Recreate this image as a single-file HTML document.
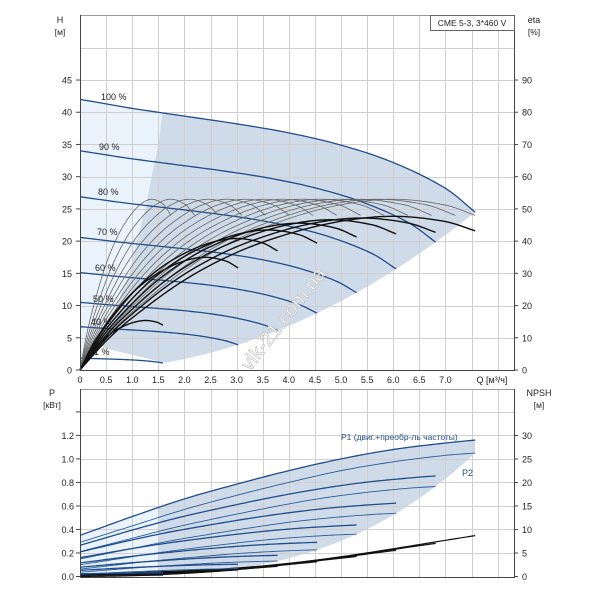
<!DOCTYPE html>
<html><head><meta charset="utf-8"><style>
html,body{margin:0;padding:0;background:#fff;}
svg{display:block;font-family:"Liberation Sans","Noto Sans CJK SC",sans-serif;}
</style></head><body>
<svg id="chart" width="600" height="600" viewBox="0 0 600 600"></svg>
<script>
// ---- data ----
const qSamples = [0, 0.5, 1, 2, 3, 4, 5, 6, 7, 7.57];
const head100 = [42, 41.3, 40.6, 39.4, 38.2, 36.8, 34.9, 32.2, 28.2, 24.5];
const eta100 = [0, 10, 18, 31, 40.5, 47, 51.3, 53, 51.2, 48];
const p1Full = [0.35, 0.43, 0.51, 0.66, 0.785, 0.90, 1.0, 1.08, 1.135, 1.16];
const p2Full = [0.29, 0.36, 0.43, 0.57, 0.69, 0.80, 0.90, 0.975, 1.03, 1.05];
const npsh100 = [0.5, 0.6, 0.8, 1.2, 1.8, 2.8, 4.2, 5.9, 7.7, 8.7];
const speeds = [1.0, 0.9, 0.8, 0.7, 0.6, 0.5, 0.4, 0.21];
const speedLabels = ["100 %", "90 %", "80 %", "70 %", "60 %", "50 %", "40 %", "21 %"];
const etaGraySpeeds = [0.23, 0.29, 0.35, 0.41, 0.47, 0.53, 0.59, 0.65, 0.71, 0.77, 0.83, 0.89, 0.95, 1.0];
const etaBlackSpeeds = [0.21, 0.4, 0.5, 0.6, 0.7, 0.8, 0.9, 1.0];
const etaBlackFactor = [0.29, 0.66, 0.77, 0.82, 0.86, 0.88, 0.89, 0.9];
const p1Extra = [0, 0.01, 0.03, 0.04, 0.04, 0.035, 0.03, 0.02];
const qTicks = ["0","0.5","1.0","1.5","2.0","2.5","3.0","3.5","4.0","4.5","5.0","5.5","6.0","6.5","7.0"];
const hTicks = [0,5,10,15,20,25,30,35,40,45];
const etaTicks = [0,10,20,30,40,50,60,70,80,90];
const pTicks = [0,0.2,0.4,0.6,0.8,1.0,1.2];
const npshTicks = [0,5,10,15,20,25,30];
const qMax = 7.57;

// ---- scales ----
const X0=80, XR=514, PXQ=52.2;
const xs = q => X0 + q*PXQ;
const yH = h => 370 - h*6.444;
const yEta = e => 370 - e*3.222;
const yP = p => 576.5 - p*117.6;
const yN = n => 576.5 - n*4.70;

// smooth cubic Hermite interpolation over samples
function interp(arr, q){
  const xsq=qSamples, n=xsq.length;
  if(q<=xsq[0]) return arr[0];
  if(q>=xsq[n-1]) return arr[n-1];
  let i=1; while(q>xsq[i]) i++;
  const slope=k=>{
    if(k===0) return (arr[1]-arr[0])/(xsq[1]-xsq[0]);
    if(k===n-1) return (arr[n-1]-arr[n-2])/(xsq[n-1]-xsq[n-2]);
    return (arr[k+1]-arr[k-1])/(xsq[k+1]-xsq[k-1]);
  };
  const x0=xsq[i-1], x1=xsq[i], h=x1-x0, t=(q-x0)/h;
  const m0=slope(i-1)*h, m1=slope(i)*h;
  const t2=t*t, t3=t2*t;
  return (2*t3-3*t2+1)*arr[i-1]+(t3-2*t2+t)*m0+(-2*t3+3*t2)*arr[i]+(t3-t2)*m1;
}
const svg=document.getElementById('chart');
const NS='http://www.w3.org/2000/svg';
function mk(tag,attrs,parent){const e=document.createElementNS(NS,tag);for(const k in attrs)e.setAttribute(k,attrs[k]);(parent||svg).appendChild(e);return e;}
function txt(s,x,y,anchor,size,fill,parent){const t=mk('text',{x:x,y:y,'text-anchor':anchor||'start','font-size':size||10,fill:fill||'#222'},parent);t.textContent=s;return t;}
function curve(fn,q0,q1){let d='';const N=80;for(let i=0;i<=N;i++){const q=q0+(q1-q0)*i/N;const [x,y]=fn(q);d+=(i?'L':'M')+x.toFixed(2)+','+y.toFixed(2);}return d;}

// ---- top plot shading ----
const hN=(n,q)=>n*n*interp(head100,q/n);
const kPar = 24.5/(qMax*qMax);
const leftB=[[1.5,35],[1.37,30],[1.25,25],[1.09,20],[0.95,15],[0.7,10],[0.5,6],[0.42,3.5]];
{
  let d='M'+xs(0)+','+yH(1.85)+'L'+xs(0)+','+yH(42);
  d+=curve(q=>[xs(q),yH(hN(1,q))],0,1.58).replace(/^M/,'L');
  leftB.forEach(p=>d+='L'+xs(p[0])+','+yH(p[1]));
  d+='L'+xs(0.1)+','+yH(1.85)+'Z';
  const e=mk('path',{d:d,fill:'#eaf3fc'});
  
  
  let d2='M'+xs(1.58)+','+yH(hN(1,1.58));
  d2+=curve(q=>[xs(q),yH(hN(1,q))],1.58,qMax).replace(/^M/,'L');
  d2+=curve(q=>[xs(q),yH(kPar*q*q)],qMax,1.62).replace(/^M/,'L');
  d2+='L'+xs(0.42)+','+yH(3.5);
  leftB.slice().reverse().forEach(p=>d2+='L'+xs(p[0])+','+yH(p[1]));
  d2+='Z';
  const e2=mk('path',{d:d2,fill:'#cfdbe8'});
  
  
}
// ---- bottom plot shading ----
const p1N=(i,q)=>{const n=speeds[i];return n*n*n*interp(p1Full,q/n)+p1Extra[i];};
const p2N=(n,q)=>n*n*n*interp(p2Full,q/n);
{
  let d='M'+xs(0)+','+yP(0)+'L'+xs(0)+','+yP(p1Full[0]);
  d+=curve(q=>[xs(q),yP(interp(p1Full,q))],0,1.5).replace(/^M/,'L');
  d+='L'+xs(1.5)+','+yP(0)+'Z';
  const e=mk('path',{d:d,fill:'#eaf3fc'});
  
  
  let d2='M'+xs(1.5)+','+yP(0);
  d2+=curve(q=>[xs(q),yP(interp(p1Full,q))],1.5,qMax).replace(/^M/,'L');
  d2+=curve(q=>[xs(q),yP(p2Full[p2Full.length-1]*Math.pow(q/qMax,3))],qMax,1.65).replace(/^M/,'L');
  d2+='Z';
  const e2=mk('path',{d:d2,fill:'#cfdbe8'});
  
  
}

// ---- grids ----
const grid=mk('g',{stroke:'#cfcfcf','stroke-width':1});


for(let i=1;i<=16;i++){const x=Math.round(xs(i*0.5))+0.5;mk('line',{x1:x,y1:15,x2:x,y2:370},grid);mk('line',{x1:x,y1:389,x2:x,y2:577},grid);}
for(let h=5;h<=50;h+=5){const y=Math.round(yH(h))+0.5;mk('line',{x1:X0,y1:y,x2:XR,y2:y},grid);}
for(let p=0.2;p<=1.41;p+=0.2){const y=Math.round(yP(p))+0.5;mk('line',{x1:X0,y1:y,x2:XR,y2:y},grid);}

// ---- head curves ----
speeds.forEach((n,i)=>{
  const p=mk('path',{d:curve(q=>[xs(q),yH(hN(n,q))],0,n*qMax),fill:'none',stroke:'#1f4e8c','stroke-width':1.3});
  
  
});
// ---- efficiency curves ----
etaGraySpeeds.forEach(n=>{
  const p=mk('path',{d:curve(q=>[xs(q),yEta(interp(eta100,q/n))],0,n*qMax),fill:'none',stroke:'#666','stroke-width':0.8});
  
  
});
etaBlackSpeeds.forEach((n,i)=>{
  const f=etaBlackFactor[i];
  const p=mk('path',{d:curve(q=>[xs(q),yEta(f*interp(eta100,q/n))],0,n*qMax),fill:'none',stroke:'#111','stroke-width':1.4});
  
  
});
// ---- power curves ----
speeds.forEach((n,i)=>{
  const a=mk('path',{d:curve(q=>[xs(q),yP(p1N(i,q))],0,n*qMax),fill:'none',stroke:'#1f4e8c','stroke-width':1.3});
  
  
  const b=mk('path',{d:curve(q=>[xs(q),yP(p2N(n,q))],0,n*qMax),fill:'none',stroke:'#2a5c9a','stroke-width':0.9});
  
  
  const c=mk('path',{d:curve(q=>[xs(q),yN(n*n*interp(npsh100,q/n))],0,n*qMax),fill:'none',stroke:'#111','stroke-width':1.2});
  
  
});

// ---- frames ----
[[15,370],[389,577]].forEach((r,i)=>{
  const f=mk('rect',{x:X0+0.5,y:r[0]+0.5,width:XR-X0,height:r[1]-r[0],fill:'none',stroke:'#999','stroke-width':1});
  
  
});
mk('line',{x1:80.5,y1:15,x2:80.5,y2:371,stroke:'#444'});
mk('line',{x1:80.5,y1:389,x2:80.5,y2:578,stroke:'#444'});
mk('line',{x1:514.5,y1:15,x2:514.5,y2:371,stroke:'#444'});
mk('line',{x1:514.5,y1:389,x2:514.5,y2:578,stroke:'#444'});
mk('line',{x1:80,y1:370.5,x2:515,y2:370.5,stroke:'#444'});
mk('line',{x1:80,y1:577.5,x2:515,y2:577.5,stroke:'#444'});

// ---- tick labels ----
hTicks.forEach(h=>{const y=yH(h);mk('line',{x1:76,y1:y,x2:80,y2:y,stroke:'#444'});const t=txt(String(h),72,y+3.5,'end',9);});
etaTicks.forEach(e=>{const y=yEta(e);mk('line',{x1:514,y1:y,x2:518,y2:y,stroke:'#444'});const t=txt(String(e),522,y+3.5,'start',9);});
qTicks.forEach((s,i)=>{const t=txt(s,xs(i*0.5),383,'middle',9);});
pTicks.forEach(p=>{const y=yP(p);mk('line',{x1:76,y1:y,x2:80,y2:y,stroke:'#444'});const t=txt(p.toFixed(1),74,y+3.5,'end',9);});
mk('line',{x1:76,y1:yP(1.4),x2:80,y2:yP(1.4),stroke:'#444'});
npshTicks.forEach(n=>{const y=yN(n);mk('line',{x1:514,y1:y,x2:518,y2:y,stroke:'#444'});const t=txt(String(n),522,y+3.5,'start',9);});

// ---- speed labels ----
const lblPos=[[101,100],[99,150],[98,195],[97,235],[95,271],[93,302],[91,325],[89,355]];
speedLabels.forEach((s,i)=>{const t=txt(s,lblPos[i][0],lblPos[i][1],'start',9);});
</script>
<svg width="600" height="600" style="position:absolute;left:0;top:0">
<g font-family="Liberation Sans, sans-serif" fill="#222">
<text x="60" y="23" font-size="9" text-anchor="middle">H</text>
<text x="60" y="35" font-size="8.5" text-anchor="middle">[м]</text>
<text x="534" y="23" font-size="9" text-anchor="middle">eta</text>
<text x="534" y="35" font-size="8.5" text-anchor="middle">[%]</text>
<text x="52" y="396" font-size="9" text-anchor="middle">P</text>
<text x="52" y="408" font-size="8.5" text-anchor="middle">[кВт]</text>
<text x="539" y="396" font-size="9" text-anchor="middle">NPSH</text>
<text x="539" y="408" font-size="8.5" text-anchor="middle">[м]</text>
<text x="492" y="383" font-size="9" text-anchor="middle">Q [м³/ч]</text>
<rect x="430.5" y="15.5" width="84" height="15" fill="#fff" stroke="#666"/>
<text x="472" y="26" font-size="8.5" text-anchor="middle">CME 5-3, 3*460 V</text>
<text x="341" y="440" font-size="8.5" fill="#1f4e8c">P1 (двиг.+преобр-ль частоты)</text>
<text x="462" y="476" font-size="9" fill="#1f4e8c">P2</text>
<text x="0" y="0" font-size="20" fill="#fff" stroke="#bbb" stroke-width="0.6" transform="translate(250,372) rotate(-52)">vlk-21.com.ua</text>
</g></svg>
</body></html>
